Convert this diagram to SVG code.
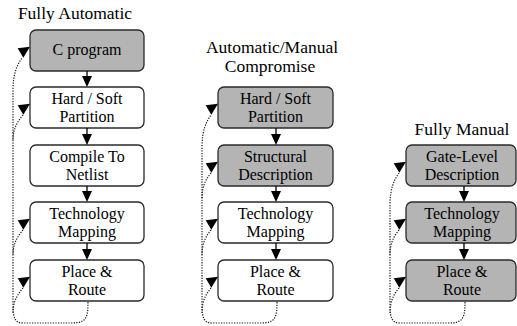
<svg xmlns="http://www.w3.org/2000/svg" width="517" height="326" viewBox="0 0 517 326">
<style>
.box{stroke:#2a2a2a;stroke-width:1.3}
.g{fill:#b4b4b4}
.w{fill:#ffffff}
.ln{stroke:#000;stroke-width:1.3;fill:none}
.dot{stroke:#222;stroke-width:1.2;fill:none;stroke-dasharray:1.3 1.3}
.ah{fill:#000}
</style>
<rect width="517" height="326" fill="#fff"/>
<g id="titles">
<text font-family="Liberation Serif" font-size="17.5" text-anchor="middle" x="75" y="19">Fully Automatic</text>
<text font-family="Liberation Serif" font-size="17.5" text-anchor="middle" x="272" y="53">Automatic/Manual</text>
<text font-family="Liberation Serif" font-size="17.5" text-anchor="middle" x="270" y="72">Compromise</text>
<text font-family="Liberation Serif" font-size="17.5" text-anchor="middle" x="462" y="135">Fully Manual</text>
</g>
<g id="c1n1"><rect class="box g" x="30" y="30" width="114" height="41" rx="6"/><text font-family="Liberation Serif" font-size="16" text-anchor="middle" x="87" y="55">C program</text></g>
<g id="c1n2"><rect class="box w" x="30" y="87" width="114" height="41" rx="6"/><text font-family="Liberation Serif" font-size="16" text-anchor="middle" x="87" y="104">Hard / Soft</text><text font-family="Liberation Serif" font-size="16" text-anchor="middle" x="87" y="122">Partition</text></g>
<g id="c1n3"><rect class="box w" x="30" y="145" width="114" height="41" rx="6"/><text font-family="Liberation Serif" font-size="16" text-anchor="middle" x="87" y="162">Compile To</text><text font-family="Liberation Serif" font-size="16" text-anchor="middle" x="87" y="180">Netlist</text></g>
<g id="c1n4"><rect class="box w" x="30" y="202" width="114" height="41" rx="6"/><text font-family="Liberation Serif" font-size="16" text-anchor="middle" x="87" y="219">Technology</text><text font-family="Liberation Serif" font-size="16" text-anchor="middle" x="87" y="237">Mapping</text></g>
<g id="c1n5"><rect class="box w" x="30" y="260" width="114" height="41" rx="6"/><text font-family="Liberation Serif" font-size="16" text-anchor="middle" x="87" y="277">Place &amp;</text><text font-family="Liberation Serif" font-size="16" text-anchor="middle" x="87" y="295">Route</text></g>

<g id="c2n1"><rect class="box g" x="218" y="87" width="115" height="41" rx="6"/><text font-family="Liberation Serif" font-size="16" text-anchor="middle" x="275.5" y="104">Hard / Soft</text><text font-family="Liberation Serif" font-size="16" text-anchor="middle" x="275.5" y="122">Partition</text></g>
<g id="c2n2"><rect class="box g" x="218" y="145" width="115" height="41" rx="6"/><text font-family="Liberation Serif" font-size="16" text-anchor="middle" x="275.5" y="162">Structural</text><text font-family="Liberation Serif" font-size="16" text-anchor="middle" x="275.5" y="180">Description</text></g>
<g id="c2n3"><rect class="box w" x="218" y="202" width="115" height="41" rx="6"/><text font-family="Liberation Serif" font-size="16" text-anchor="middle" x="275.5" y="219">Technology</text><text font-family="Liberation Serif" font-size="16" text-anchor="middle" x="275.5" y="237">Mapping</text></g>
<g id="c2n4"><rect class="box w" x="218" y="260" width="115" height="41" rx="6"/><text font-family="Liberation Serif" font-size="16" text-anchor="middle" x="275.5" y="277">Place &amp;</text><text font-family="Liberation Serif" font-size="16" text-anchor="middle" x="275.5" y="295">Route</text></g>

<g id="c3n1"><rect class="box g" x="406" y="145" width="110" height="41" rx="6"/><text font-family="Liberation Serif" font-size="16" text-anchor="middle" x="462" y="162">Gate-Level</text><text font-family="Liberation Serif" font-size="16" text-anchor="middle" x="462" y="180">Description</text></g>
<g id="c3n2"><rect class="box g" x="406" y="202" width="110" height="41" rx="6"/><text font-family="Liberation Serif" font-size="16" text-anchor="middle" x="462" y="219">Technology</text><text font-family="Liberation Serif" font-size="16" text-anchor="middle" x="462" y="237">Mapping</text></g>
<g id="c3n3"><rect class="box g" x="406" y="260" width="110" height="41" rx="6"/><text font-family="Liberation Serif" font-size="16" text-anchor="middle" x="462" y="277">Place &amp;</text><text font-family="Liberation Serif" font-size="16" text-anchor="middle" x="462" y="295">Route</text></g>

<g id="connectors">
<path class="ln" d="M87 71V80M87 128V137M87 186V194M87 243V252"/>
<polygon class="ah" points="82,76 92,76 87,87"/>
<polygon class="ah" points="82,134 92,134 87,145"/>
<polygon class="ah" points="82,191 92,191 87,202"/>
<polygon class="ah" points="82,249 92,249 87,260"/>
<path class="ln" d="M276 128V137M276 186V194M276 243V252"/>
<polygon class="ah" points="271,134 281,134 276,145"/>
<polygon class="ah" points="271,191 281,191 276,202"/>
<polygon class="ah" points="271,249 281,249 276,260"/>
<path class="ln" d="M464 186V194M464 243V252"/>
<polygon class="ah" points="459,191 469,191 464,202"/>
<polygon class="ah" points="459,249 469,249 464,260"/>

<path class="dot" d="M88 302C88 318 86 323 72 323L23 323C15 323 13 318 13 305L13 90C13 74 17 65 22 58"/>
<path class="dot" d="M23 115C18 121 13 128 13 140"/>
<path class="dot" d="M23 230C18 236 13 243 13 255"/>
<path class="dot" d="M23 288C18 294 13 301 13 313"/>
<polygon class="ah" points="17.7,48.3 30,46.7 23.3,57.7"/>
<polygon class="ah" points="17.7,105.3 30,103.7 23.3,114.7"/>
<polygon class="ah" points="17.7,220.3 30,218.7 23.3,229.7"/>
<polygon class="ah" points="17.7,278.3 30,276.7 23.3,287.7"/>

<path class="dot" d="M277 302C277 318 275 323 261 323L212 323C204 323 202 318 202 305L202 147C202 131 206 122 211 115"/>
<path class="dot" d="M211 173C206 179 202 186 202 198"/>
<path class="dot" d="M211 230C206 236 202 243 202 255"/>
<path class="dot" d="M211 288C206 294 202 301 202 313"/>
<polygon class="ah" points="205.7,105.3 218,103.7 211.3,114.7"/>
<polygon class="ah" points="205.7,163.3 218,161.7 211.3,172.7"/>
<polygon class="ah" points="205.7,220.3 218,218.7 211.3,229.7"/>
<polygon class="ah" points="205.7,278.3 218,276.7 211.3,287.7"/>

<path class="dot" d="M465 302C465 318 463 323 449 323L400 323C392 323 390 318 390 305L390 205C390 189 394 180 399 173"/>
<path class="dot" d="M399 230C394 236 390 243 390 255"/>
<path class="dot" d="M399 288C394 294 390 301 390 313"/>
<polygon class="ah" points="393.7,163.3 406,161.7 399.3,172.7"/>
<polygon class="ah" points="393.7,220.3 406,218.7 399.3,229.7"/>
<polygon class="ah" points="393.7,278.3 406,276.7 399.3,287.7"/>
</g>
</svg>
